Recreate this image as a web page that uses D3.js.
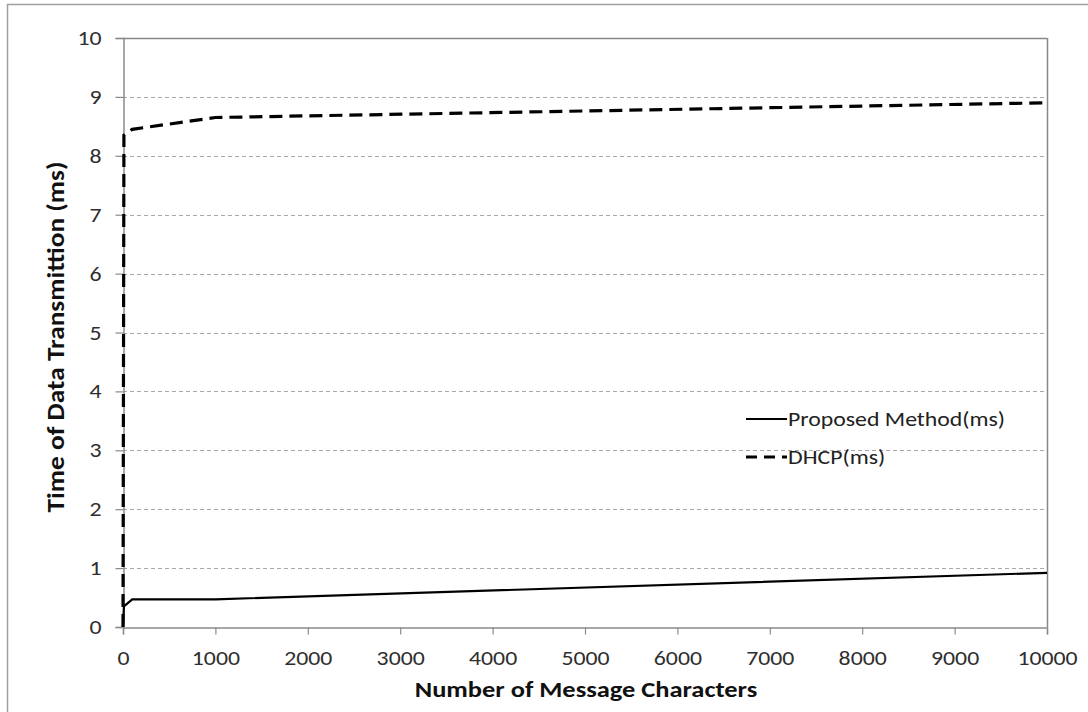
<!DOCTYPE html>
<html><head><meta charset="utf-8">
<script src="https://cdn.jsdelivr.net/npm/d3@7"></script>
<style>body{margin:0;background:#fff}svg{display:block}</style>
</head><body><svg id="c" width="1088" height="712"></svg>
<script>
const xValues = [0, 10, 100, 1000, 10000];
const proposed = [0, 0.35, 0.47, 0.47, 0.92];
const dhcp = [0, 8.35, 8.45, 8.65, 8.9];
const xTicks = [0,1000,2000,3000,4000,5000,6000,7000,8000,9000,10000];
const yTicks = [0,1,2,3,4,5,6,7,8,9,10];
const seriesNames = ["Proposed Method(ms)", "DHCP(ms)"];

const svg = d3.select("#c");
const font = "Carlito, Calibri, Lato, 'Liberation Sans', sans-serif";
const L=123, R=1047, T=38, B=627;
const SX = 1.16;
const x = d3.scaleLinear().domain([0,10000]).range([L,R]);
const y = d3.scaleLinear().domain([0,10]).range([B,T]);

svg.append("rect").attr("x",7.5).attr("y",4.5).attr("width",1200).attr("height",800)
  .attr("fill","none").attr("stroke","#a0a0a0").attr("stroke-width",1.5);

svg.append("g").selectAll("line").data(yTicks.filter(d=>d>0&&d<10)).join("line")
  .attr("x1",L).attr("x2",R).attr("y1",d=>Math.round(y(d))+0.5).attr("y2",d=>Math.round(y(d))+0.5)
  .attr("stroke","#a8a8a8").attr("stroke-dasharray","4,3").attr("stroke-width",1);
svg.append("line").attr("x1",L).attr("x2",R).attr("y1",T+0.5).attr("y2",T+0.5).attr("stroke","#888").attr("stroke-width",1.5);
svg.append("line").attr("x1",R+0.5).attr("x2",R+0.5).attr("y1",T).attr("y2",B).attr("stroke","#888").attr("stroke-width",1.5);

const xAxis = svg.append("g").attr("transform",`translate(0,${B+0.5})`)
  .call(d3.axisBottom(x).tickValues(xTicks).tickFormat(d3.format("d")).tickSize(7).tickPadding(10));
const yAxis = svg.append("g").attr("transform",`translate(${L+0.5},0)`)
  .call(d3.axisLeft(y).tickValues(yTicks).tickSize(8).tickPadding(14));
[xAxis,yAxis].forEach(a=>{
  a.attr("font-size",null).attr("font-family",null);
  a.select(".domain").attr("stroke","#8a8a8a").attr("stroke-width",1.5);
  a.selectAll(".tick line").attr("stroke","#8a8a8a").attr("stroke-width",1.2);
  a.selectAll("text").style("font-family",font).style("font-size","20.5px").attr("fill","#2e2e2e");
});
xAxis.selectAll(".tick text").attr("y",38).attr("dy",null).attr("transform",`scale(${SX},1)`);
yAxis.selectAll(".tick text").attr("x",-22/SX).attr("transform",`scale(${SX},1)`);

const line = d3.line().x((d,i)=>x(xValues[i])).y(d=>y(d));
svg.append("path").datum(proposed).attr("d",line).attr("fill","none")
  .attr("stroke","#000").attr("stroke-width",2.2);
svg.append("path").datum(dhcp).attr("d",line).attr("fill","none")
  .attr("stroke","#000").attr("stroke-width",3.2).attr("stroke-dasharray","13,7");

const lg = svg.append("g");
const items = [{n:seriesNames[0],dash:null,w:2.2,yy:419},{n:seriesNames[1],dash:"11,7",w:3.2,yy:457}];
items.forEach(it=>{
  lg.append("line").attr("x1",746).attr("x2",787).attr("y1",it.yy).attr("y2",it.yy)
    .attr("stroke","#000").attr("stroke-width",it.w).attr("stroke-dasharray",it.dash);
  lg.append("text").attr("transform",`translate(788,${it.yy+6.5}) scale(1.19,1)`).text(it.n)
    .style("font-family",font).style("font-size","20px").attr("fill","#222");
});

svg.append("text").attr("transform",`translate(586,697) scale(1.15,1)`).attr("text-anchor","middle")
  .style("font-family",font).style("font-size","23px").attr("font-weight","bold").attr("fill","#111")
  .text("Number of Message Characters");
svg.append("text").attr("transform","translate(64,337) rotate(-90) scale(1.14,1)").attr("text-anchor","middle")
  .style("font-family",font).style("font-size","24px").attr("font-weight","bold").attr("fill","#111")
  .text("Time of Data Transmittion (ms)");
</script></body></html>
